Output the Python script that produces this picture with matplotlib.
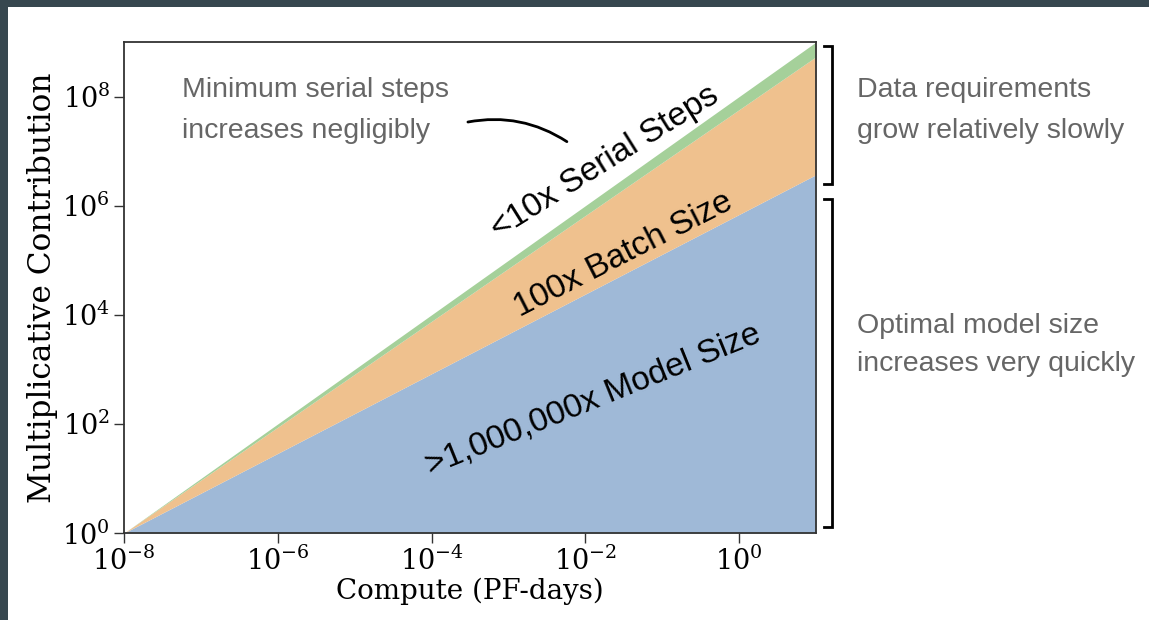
import numpy as np
import matplotlib.pyplot as plt
from matplotlib.patches import Rectangle

# Compute budget (PF-days) at both ends of the range
compute = np.array([1e-8, 1e1])

# Multiplicative contribution of each factor at those compute values
model_size = np.array([1.0, 3.7e6])
batch_size = np.array([1.0, 145.0])
serial_steps = np.array([1.0, 1.86])

x_ticks = [1e-8, 1e-6, 1e-4, 1e-2, 1e0]
y_ticks = [1e0, 1e2, 1e4, 1e6, 1e8]

couleur_modele = '#9fb9d7'
couleur_batch = '#efc18e'
couleur_serial = '#a5d09a'
gris = '#666666'

plt.rcParams['mathtext.fontset'] = 'dejavuserif'

fig = plt.figure(figsize=(11.49, 6.2), dpi=100)
fig.patch.set_facecolor('white')

# bandeau sombre en haut et a gauche
fig.patches.append(Rectangle((0, 1 - 7 / 620), 1, 7 / 620, transform=fig.transFigure,
                             facecolor='#37474f', edgecolor='none', zorder=0))
fig.patches.append(Rectangle((0, 0), 8 / 1149, 1, transform=fig.transFigure,
                             facecolor='#37474f', edgecolor='none', zorder=0))

ax = fig.add_axes([0.1079, 0.1403, 0.6023, 0.792])
ax.set_xscale('log')
ax.set_yscale('log')

# empilement multiplicatif
haut_modele = model_size
haut_batch = model_size * batch_size
haut_serial = haut_batch * serial_steps

ax.fill_between(compute, 1.0, haut_modele, color=couleur_modele, lw=0)
ax.fill_between(compute, haut_modele, haut_batch, color=couleur_batch, lw=0)
ax.fill_between(compute, haut_batch, haut_serial, color=couleur_serial, lw=0)

ax.set_xlim(compute[0], compute[-1])
ax.set_ylim(1.0, 1e9)
ax.set_xticks(x_ticks)
ax.set_yticks(y_ticks)
ax.minorticks_off()
ax.tick_params(labelsize=19.5, length=7, width=1, color='#333333', pad=3)
for lab in ax.get_xticklabels() + ax.get_yticklabels():
    lab.set_family('DejaVu Serif')
for s in ax.spines.values():
    s.set_color('#333333')
    s.set_linewidth(1.3)

ax.set_xlabel('Compute (PF-days)', fontsize=20, family='DejaVu Serif', labelpad=1)
ax.set_ylabel('Multiplicative Contribution', fontsize=22.5, family='DejaVu Serif', labelpad=3)

# etiquettes des bandes
ax.text(0.695, 0.754, '<10x Serial Steps', transform=ax.transAxes, fontsize=24,
        family='Liberation Sans', rotation=32, rotation_mode='anchor',
        ha='center', va='center', color='black')
ax.text(0.722, 0.566, '100x Batch Size', transform=ax.transAxes, fontsize=24,
        family='Liberation Sans', rotation=27, rotation_mode='anchor',
        ha='center', va='center', color='black')
ax.text(0.678, 0.271, '>1,000,000x Model Size', transform=ax.transAxes, fontsize=24,
        family='Liberation Sans', rotation=22, rotation_mode='anchor',
        ha='center', va='center', color='black')

# commentaires en gris
ax.text(0.084, 0.861, 'Minimum serial steps\nincreases negligibly', transform=ax.transAxes,
        fontsize=20.5, family='Liberation Sans', color=gris, ha='left', va='center',
        linespacing=1.75)
ax.text(1.059, 0.861, 'Data requirements\ngrow relatively slowly', transform=ax.transAxes,
        fontsize=20.5, family='Liberation Sans', color=gris, ha='left', va='center',
        linespacing=1.75, clip_on=False)
ax.text(1.059, 0.383, 'Optimal model size\nincreases very quickly', transform=ax.transAxes,
        fontsize=20.5, family='Liberation Sans', color=gris, ha='left', va='center',
        linespacing=1.6, clip_on=False)

# trait courbe vers l'etiquette des pas
ax.annotate('', xy=(0.64, 0.797), xytext=(0.497, 0.837), xycoords='axes fraction',
            textcoords='axes fraction',
            arrowprops=dict(arrowstyle='-', color='black', lw=2,
                            connectionstyle='arc3,rad=-0.2',
                            shrinkA=0, shrinkB=0))

# crochets a droite de l'axe
trans = ax.get_yaxis_transform()
def crochet(y_bas, y_haut):
    ax.plot([1.012, 1.023, 1.023, 1.012], [y_bas, y_bas, y_haut, y_haut],
            transform=trans, color='black', lw=2, clip_on=False,
            solid_joinstyle='miter')

crochet(haut_modele[-1] / 10**0.17, haut_serial[-1] / 10**0.08)
crochet(10**0.11, haut_modele[-1] / 10**0.44)

fig.savefig('out.png', dpi=100, facecolor='white')
